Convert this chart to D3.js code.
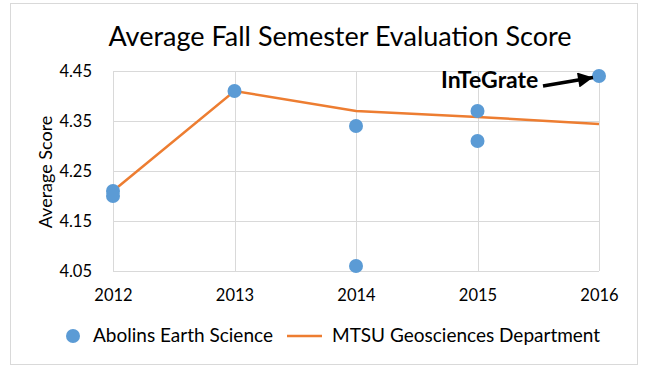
<!doctype html>
<html>
<head>
<script src="https://d3js.org/d3.v7.min.js"></script>
<style>
  body { margin: 0; background: #fff; }
</style>
</head>
<body>
<svg width="650" height="366" id="chart"></svg>
<script>
// data
var years = [2012, 2013, 2014, 2015, 2016];
var yTicks = [4.05, 4.15, 4.25, 4.35, 4.45];
var abolinsYears = [2012, 2012, 2013, 2014, 2014, 2015, 2015, 2016];
var abolinsScores = [4.21, 4.20, 4.41, 4.34, 4.06, 4.37, 4.31, 4.44];
var mtsuScores = [4.21, 4.41, 4.37, 4.358, 4.344];

var svg = d3.select("#chart");
var font = "Lato, 'Open Sans', sans-serif";

// outer frame
svg.append("rect")
  .attr("x", 10.5).attr("y", 3.5)
  .attr("width", 627).attr("height", 361)
  .attr("fill", "#fff")
  .attr("stroke", "#d9d9d9");

var x = d3.scaleLinear().domain([2012, 2016]).range([113, 599]);
var y = d3.scaleLinear().domain([4.05, 4.45]).range([271, 71]);

// grid
svg.append("g").selectAll("line.h")
  .data(yTicks).enter().append("line")
  .attr("x1", x(2012)).attr("x2", x(2016))
  .attr("y1", function (d) { return Math.round(y(d)) + 0.5; })
  .attr("y2", function (d) { return Math.round(y(d)) + 0.5; })
  .attr("stroke", "#d9d9d9").attr("stroke-width", 1);

svg.append("g").selectAll("line.v")
  .data(years).enter().append("line")
  .attr("x1", function (d) { return Math.round(x(d)) + 0.5; })
  .attr("x2", function (d) { return Math.round(x(d)) + 0.5; })
  .attr("y1", y(4.45)).attr("y2", y(4.05))
  .attr("stroke", "#d9d9d9").attr("stroke-width", 1);

// axes
var yAxis = svg.append("g")
  .attr("transform", "translate(" + (x(2012) - 18) + ",0)")
  .call(d3.axisLeft(y).tickValues(yTicks).tickSize(0).tickFormat(d3.format(".2f")));
yAxis.select(".domain").remove();
yAxis.selectAll("text")
  .attr("dy", "0.36em")
  .style("font-family", font).style("font-size", "16.5px").attr("fill", "#000");

var xAxis = svg.append("g")
  .attr("transform", "translate(0," + (y(4.05) + 15) + ")")
  .call(d3.axisBottom(x).tickValues(years).tickSize(0).tickFormat(d3.format("d")));
xAxis.select(".domain").remove();
xAxis.selectAll("text")
  .style("font-family", font).style("font-size", "16.5px").attr("fill", "#000");

// title
svg.append("text")
  .attr("x", 340).attr("y", 46)
  .attr("text-anchor", "middle")
  .style("font-family", font).style("font-size", "27px")
  .text("Average Fall Semester Evaluation Score");

// y label
svg.append("text")
  .attr("transform", "translate(52,172)rotate(-90)")
  .attr("text-anchor", "middle")
  .style("font-family", font).style("font-size", "18px")
  .text("Average Score");

// line
var line = d3.line()
  .x(function (d, i) { return x(years[i]); })
  .y(function (d) { return y(d); });
svg.append("path")
  .datum(mtsuScores)
  .attr("d", line)
  .attr("fill", "none")
  .attr("stroke", "#ed7d31")
  .attr("stroke-width", 2.5);

// points
svg.append("g").selectAll("circle")
  .data(abolinsScores).enter().append("circle")
  .attr("cx", function (d, i) { return x(abolinsYears[i]); })
  .attr("cy", function (d) { return y(d); })
  .attr("r", 7)
  .attr("fill", "#5b9bd5");

// annotation
svg.append("defs").append("marker")
  .attr("id", "arrow")
  .attr("viewBox", "0 0 10 10")
  .attr("refX", 10).attr("refY", 5)
  .attr("markerUnits", "userSpaceOnUse")
  .attr("markerWidth", 24).attr("markerHeight", 15)
  .attr("orient", "auto")
  .append("path").attr("d", "M0,0L10,5L0,10z").attr("fill", "#000");

svg.append("text")
  .attr("x", 441).attr("y", 88)
  .style("font-family", font).style("font-size", "23px").style("font-weight", "bold")
  .text("InTeGrate");

svg.append("line")
  .attr("x1", 543).attr("y1", 86)
  .attr("x2", x(2016) - 6).attr("y2", y(4.44) + 1.5)
  .attr("stroke", "#000").attr("stroke-width", 3.5)
  .attr("marker-end", "url(#arrow)");

// legend
var legend = svg.append("g");
legend.append("circle")
  .attr("cx", 73).attr("cy", 336).attr("r", 7).attr("fill", "#5b9bd5");
legend.append("text")
  .attr("x", 93).attr("y", 342)
  .style("font-family", font).style("font-size", "19px")
  .text("Abolins Earth Science");
legend.append("line")
  .attr("x1", 287).attr("x2", 322).attr("y1", 336).attr("y2", 336)
  .attr("stroke", "#ed7d31").attr("stroke-width", 2.5);
legend.append("text")
  .attr("x", 332).attr("y", 342)
  .style("font-family", font).style("font-size", "19px")
  .text("MTSU Geosciences Department");
</script>
</body>
</html>
